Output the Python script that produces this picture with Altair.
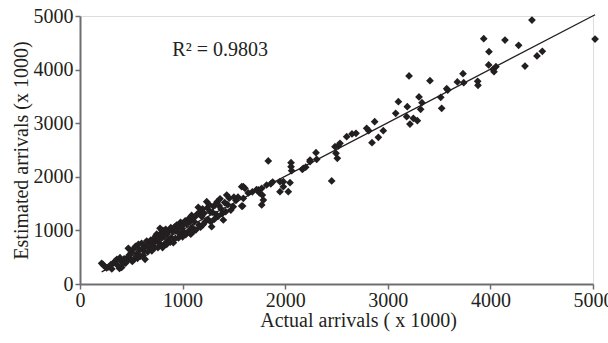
import altair as alt
import pandas as pd

actual = [
    211, 225, 240, 260, 280, 300, 310, 330, 345, 360, 370, 385, 390, 400, 406, 420, 430, 445, 455, 465, 471, 480, 490, 500, 510,
    520, 530, 540, 552, 560, 569, 580, 590, 600, 610, 617, 625, 634, 640, 650, 660, 670, 682, 690, 700, 710, 715, 725, 730, 740,
    747, 755, 760, 770, 780, 785, 790, 795, 800, 805,
    812, 820, 830, 835, 845, 850, 860, 870, 880, 885, 893, 900, 910, 920, 930, 935, 942, 950, 960, 965, 975, 980, 990, 1000,
    1005, 1015, 1025, 1030, 1040, 1050, 1055, 1065, 1072, 1080, 1088, 1095, 1100, 1105,
    1115, 1125, 1130, 1140, 1153, 1160, 1170, 1175, 1185, 1195, 1200, 1210, 1220, 1235, 1240, 1250, 1260, 1267, 1275, 1283,
    1290, 1300, 1310, 1316, 1325, 1335, 1345, 1355, 1365, 1375, 1385, 1397, 1410, 1420, 1430, 1440, 1455, 1470, 1494, 1500,
    1520, 1540, 1576, 1576, 1585, 1592, 1592, 1608, 1640, 1680, 1720, 1738, 1750, 1771, 1771, 1777, 1787, 1819, 1835, 1860,
    1878, 1949, 1949, 1982, 1982, 2030, 2047, 2057, 2057, 2063, 2167, 2177, 2200, 2242, 2242, 2300, 2307, 2453, 2485, 2495,
    2508, 2518, 2534, 2599, 2651, 2690, 2794, 2814, 2846, 2872, 2908, 2956, 3077, 3103, 3184, 3190, 3207, 3216, 3249, 3288,
    3304, 3320, 3333, 3411, 3516, 3525, 3574, 3584, 3678, 3733, 3740, 3876, 3879, 3935, 3983, 3986, 4026, 4035, 4054, 4142,
    4275, 4337, 4405, 4454, 4506, 5020,
]
estimated = [
    386, 360, 330, 300, 320, 360, 280, 400, 430, 460, 340, 290, 490, 440, 310, 380, 470, 390, 430, 500, 666, 540, 460, 590, 420,
    650, 470, 700, 560, 480, 740, 640, 520, 760, 660, 530, 610, 460, 720, 800, 600, 740, 680, 820, 620, 760, 800, 860, 680, 900,
    930, 790, 680, 850, 1039, 940, 730, 870, 1000, 680,
    990, 900, 760, 1020, 740, 930, 820, 1000, 780, 1050, 860, 980, 770, 1060, 850, 990, 1100, 1030, 860, 1080, 930, 1150, 1040, 880,
    1100, 970, 1180, 920, 1120, 960, 1210, 1000, 1160, 930, 1280, 1050, 1230, 980,
    1160, 1260, 1010, 1300, 1430, 1100, 1350, 1060, 1260, 1400, 1110, 1320, 1160, 1535, 1420, 1200, 1480, 1349, 1160, 1069,
    1340, 1450, 1210, 1470, 1300, 1530, 1260, 1460, 1590, 1400, 1310, 1194, 1520, 1350, 1660, 1480, 1600, 1380, 1442, 1620,
    1560, 1620, 1455, 1815, 1455, 1599, 1815, 1785, 1700, 1720, 1760, 1754, 1700, 1785, 1474, 1660, 1567, 1847, 2295, 1870,
    1903, 1722, 1909, 1909, 1815, 1722, 1890, 2263, 2188, 2114, 2140, 2159, 2180, 2313, 2282, 2451, 2326, 1922, 2562, 2438,
    2345, 2575, 2625, 2748, 2799, 2811, 2905, 2860, 2636, 3028, 2737, 2860, 3185, 3401, 3122, 3308, 3881, 2985, 3091, 3047,
    3489, 3259, 3383, 3793, 3483, 3278, 3644, 3619, 3769, 3924, 3756, 3782, 3707, 4577, 4086, 4334, 4005, 3961, 4054, 4552,
    4453, 4067, 4925, 4254, 4341, 4570,
]

fit_actual = [211, 5020]
fit_estimated = [226, 5024]

label_x = [900]
label_y = [4370]
label_text = ["R\u00b2 = 0.9803"]

FONT = "Liberation Serif"
AXIS_GREY = "#6d6e71"
INK = "#231f20"

pts = pd.DataFrame({"a": actual, "e": estimated})
fit = pd.DataFrame({"a": fit_actual, "e": fit_estimated})
lab = pd.DataFrame({"a": label_x, "e": label_y, "t": label_text})

xscale = alt.Scale(domain=[0, 5000], nice=False, zero=False)
yscale = alt.Scale(domain=[0, 5000], nice=False, zero=False)

xaxis = alt.Axis(
    title="Actual arrivals  ( x 1000)",
    values=[0, 1000, 2000, 3000, 4000, 5000],
    format="d",
    grid=False,
    domainColor=AXIS_GREY, domainWidth=2,
    tickColor=AXIS_GREY, tickWidth=1.5, tickSize=5,
    labelFont=FONT, labelFontSize=20, labelColor=INK, labelPadding=1,
    titleFont=FONT, titleFontSize=20, titleColor=INK, titleFontWeight="normal",
    titlePadding=0, titleX=278, titleAlign="center",
    labelFlush=False,
)
yaxis = alt.Axis(
    title="Estimated arrivals  (x 1000)",
    values=[0, 1000, 2000, 3000, 4000, 5000],
    format="d",
    grid=False,
    domainColor=AXIS_GREY, domainWidth=2,
    tickColor=AXIS_GREY, tickWidth=1.5, tickSize=5,
    labelFont=FONT, labelFontSize=20, labelColor=INK, labelPadding=2,
    titleFont=FONT, titleFontSize=20, titleColor=INK, titleFontWeight="normal",
    titlePadding=2,
    labelFlush=False,
)

points = alt.Chart(pts).mark_point(
    shape="diamond", filled=True, size=60, color=INK, opacity=1
).encode(
    x=alt.X("a:Q", scale=xscale, axis=xaxis),
    y=alt.Y("e:Q", scale=yscale, axis=yaxis),
)

line = alt.Chart(fit).mark_line(color=INK, strokeWidth=1.3).encode(
    x=alt.X("a:Q", scale=xscale),
    y=alt.Y("e:Q", scale=yscale),
)

text = alt.Chart(lab).mark_text(
    align="left", baseline="middle", font=FONT, fontSize=20, color=INK
).encode(
    x=alt.X("a:Q", scale=xscale),
    y=alt.Y("e:Q", scale=yscale),
    text="t:N",
)

chart = alt.layer(points, line, text).properties(
    width=513,
    height=268,
    autosize=alt.AutoSizeParams(type="none"),
    padding={"left": 80, "top": 16, "right": 15, "bottom": 59},
).configure_view(stroke=None).configure(background="white")

chart.save("out.html", embed_options={"renderer": "svg", "actions": False})
